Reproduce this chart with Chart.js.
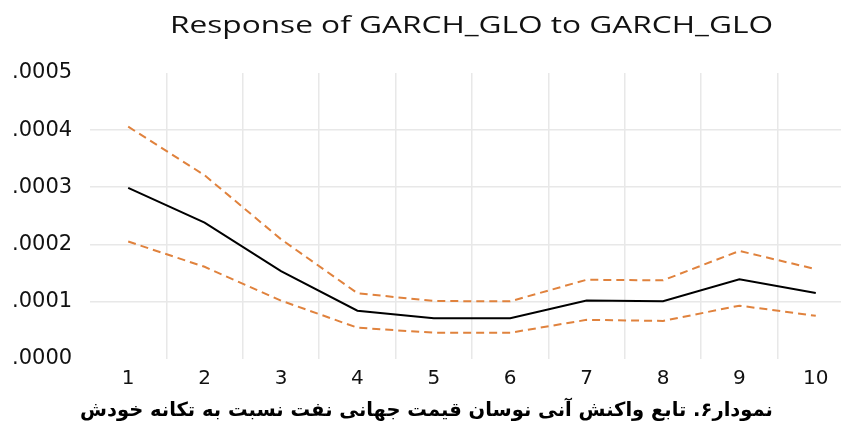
<!DOCTYPE html>
<html>
<head>
<meta charset="utf-8">
<script src="https://cdn.jsdelivr.net/npm/chart.js@4.4.1/dist/chart.umd.min.js"></script>
<style>
  html, body { margin: 0; padding: 0; background: #ffffff; overflow: hidden; }
  #wrap { width: 841px; height: 428px; position: relative; }
</style>
</head>
<body>
<div id="wrap"><canvas id="c"></canvas></div>
<script>
const periods = [1, 2, 3, 4, 5, 6, 7, 8, 9, 10];
const response = [0.000299, 0.000238, 0.000153, 0.0000838, 0.0000707, 0.0000707, 0.0001015, 0.0001003, 0.0001388, 0.000115];
const upperBand = [0.000406, 0.000321, 0.000209, 0.0001145, 0.0001008, 0.0001003, 0.000138, 0.000137, 0.0001885, 0.0001566];
const lowerBand = [0.000205, 0.0001607, 0.0001015, 0.0000541, 0.0000453, 0.0000453, 0.0000678, 0.000066, 0.0000927, 0.0000749];
const yTicks = [0, 0.0001, 0.0002, 0.0003, 0.0004, 0.0005];
const titleText = 'Response of GARCH_GLO to GARCH_GLO';
const captionText = 'نمودار۶. تابع واکنش آنی نوسان قیمت جهانی نفت نسبت به تکانه خودش';

const toXY = arr => arr.map((v, i) => ({ x: periods[i], y: v }));
const orange = '#E0823D';

const topTitle = {
  id: 'topTitle',
  afterDraw(chart) {
    const ctx = chart.ctx;
    ctx.save();
    ctx.font = '23px "Open Sans"';
    const w = ctx.measureText(titleText).width;
    const sx = 603 / w;
    ctx.translate(170, 26);
    ctx.scale(sx, 1);
    ctx.fillStyle = '#111111';
    ctx.textAlign = 'left';
    ctx.textBaseline = 'middle';
    ctx.fillText(titleText, 0, 0);
    ctx.restore();
  }
};

new Chart(document.getElementById('c'), {
  type: 'line',
  data: {
    datasets: [
      { data: toXY(upperBand), borderColor: orange, borderWidth: 2, borderDash: [8, 5], pointRadius: 0, tension: 0, fill: false },
      { data: toXY(lowerBand), borderColor: orange, borderWidth: 2, borderDash: [8, 5], pointRadius: 0, tension: 0, fill: false },
      { data: toXY(response), borderColor: '#000000', borderWidth: 2, pointRadius: 0, tension: 0, fill: false }
    ]
  },
  options: {
    responsive: true,
    maintainAspectRatio: false,
    animation: false,
    events: [],
    layout: { padding: { left: 12, top: 73, right: 0, bottom: 0 } },
    plugins: {
      legend: { display: false },
      tooltip: { enabled: false },
      title: { display: false },
      subtitle: {
        display: true,
        position: 'bottom',
        text: captionText,
        color: '#000000',
        font: { family: '"DejaVu Sans"', size: 19.5, weight: 'bold' },
        padding: { top: 1, bottom: 5 }
      }
    },
    scales: {
      x: {
        type: 'linear',
        min: 0.5,
        max: 10.33,
        afterBuildTicks(axis) {
          const t = [];
          periods.forEach(p => { t.push({ value: p }); if (p < periods[periods.length - 1]) t.push({ value: p + 0.5 }); });
          axis.ticks = t;
        },
        border: { display: false },
        grid: {
          drawTicks: false,
          color: ctx => (ctx.tick && !Number.isInteger(ctx.tick.value)) ? '#e8e8e8' : 'rgba(0,0,0,0)',
          lineWidth: 1.5
        },
        ticks: {
          padding: 8,
          autoSkip: false,
          maxRotation: 0,
          color: '#111111',
          font: { family: '"DejaVu Sans"', size: 20 },
          callback: v => Number.isInteger(v) ? String(v) : ''
        }
      },
      y: {
        min: 0,
        max: 0.0005,
        afterBuildTicks(axis) { axis.ticks = yTicks.map(v => ({ value: v })); },
        afterFit(axis) { axis.width = 78; },
        border: { display: false },
        grid: {
          drawTicks: false,
          color: ctx => (ctx.tick && ctx.tick.value > 0 && ctx.tick.value < 0.0005) ? '#e8e8e8' : 'rgba(0,0,0,0)',
          lineWidth: 1.5
        },
        ticks: {
          crossAlign: 'far',
          padding: 0,
          color: '#111111',
          font: { family: '"DejaVu Sans"', size: 21 },
          callback: v => Number(v).toFixed(4).replace(/^0/, '')
        }
      }
    }
  },
  plugins: [topTitle]
});
</script>
</body>
</html>
